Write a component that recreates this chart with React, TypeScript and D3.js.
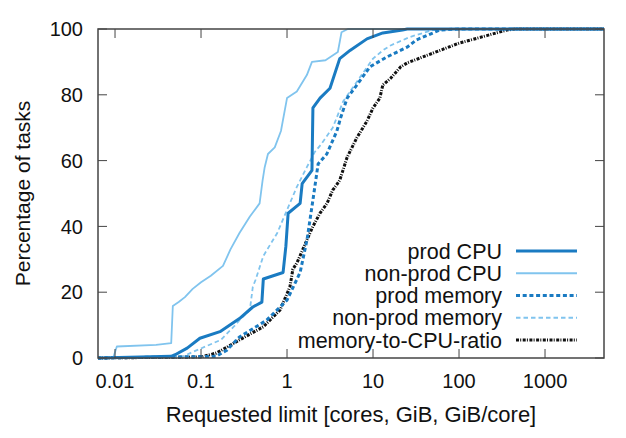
import React, { useEffect, useRef } from 'react';
import * as d3 from 'd3';

type Pt = [number, number];

// CDF points: [requested limit, percentage of tasks]
const prodCpu: Pt[] = [
  [0.0063, 0], [0.045, 0.5], [0.05, 1], [0.069, 3], [0.097, 6], [0.166, 8], [0.28, 12],
  [0.4, 15.5], [0.51, 17], [0.53, 24], [0.9, 26], [0.97, 34], [1.03, 44], [1.42, 47],
  [1.5, 53], [1.95, 57], [2.0, 76], [2.42, 79], [3.16, 82], [4.1, 91], [5.4, 93.5],
  [8.5, 97], [13, 98.8], [22, 99.7], [25, 100], [5000, 100],
];

const nonProdCpu: Pt[] = [
  [0.0063, 0], [0.0095, 0], [0.0105, 3.5], [0.03, 4], [0.045, 4.5], [0.047, 15.8],
  [0.055, 17], [0.065, 18.5], [0.08, 21], [0.1, 23], [0.13, 25], [0.18, 28], [0.22, 33],
  [0.28, 38], [0.37, 43], [0.48, 47], [0.52, 54], [0.55, 58], [0.6, 62], [0.72, 64],
  [0.85, 69], [1.0, 79], [1.3, 81], [1.7, 86], [1.95, 90], [2.8, 90.5], [3.9, 93],
  [4.3, 99], [5.1, 100], [5000, 100],
];

const prodMemory: Pt[] = [
  [0.0063, 0], [0.15, 0.5], [0.2, 2.4], [0.28, 6.4], [0.58, 11.5], [1.0, 17.6],
  [1.42, 26], [1.71, 36], [2.0, 48], [2.3, 59], [2.9, 62], [3.8, 69], [4.2, 73],
  [5.0, 79], [6.5, 83], [9.2, 88.5], [14.5, 91.5], [25, 94.5], [32, 96.7], [60, 99.7],
  [100, 100], [5000, 100],
];

const nonProdMemory: Pt[] = [
  [0.0063, 0], [0.06, 0.3], [0.075, 1.5], [0.17, 5.5], [0.24, 9.5], [0.28, 11.5],
  [0.37, 14.6], [0.4, 21.6], [0.43, 23.7], [0.53, 31], [0.77, 38], [1.0, 45], [1.3, 52],
  [1.7, 58], [2.1, 62.6], [2.5, 65], [3.4, 70], [4.5, 78], [6.5, 84], [10, 91],
  [13, 93.5], [16, 95], [27, 97.6], [50, 99.7], [80, 100], [5000, 100],
];

const memToCpuRatio: Pt[] = [
  [0.0063, 0], [0.1, 0.3], [0.15, 1.5], [0.2, 3.3], [0.28, 5.5], [0.53, 9.5],
  [0.83, 14.6], [1.08, 21.6], [1.17, 27], [1.31, 29], [1.71, 36], [2.0, 40], [2.42, 44],
  [2.92, 47], [3.4, 51], [4.1, 54], [5.0, 61], [6.5, 67], [8.5, 72], [10, 76], [12, 79],
  [13, 83], [16, 85], [21, 88.5], [25, 89.7], [50, 92.7], [100, 95.7], [210, 98],
  [360, 99.7], [450, 100], [5000, 100],
];

const seriesNames = ['prod CPU', 'non-prod CPU', 'prod memory', 'non-prod memory', 'memory-to-CPU-ratio'];
const xTicks = [0.01, 0.1, 1, 10, 100, 1000];
const yTicks = [0, 20, 40, 60, 80, 100];

const FONT = '"Liberation Sans", Arial, Helvetica, sans-serif';

const App = () => {
  const svgRef = useRef<SVGSVGElement>(null);

  useEffect(() => {
    const width = 626;
    const height = 438;
    const left = 98, right = 604, top = 29, bottom = 358;

    const svg = d3.select(svgRef.current);
    svg.selectAll('*').remove();
    svg.attr('width', width).attr('height', height);

    svg.append('rect').attr('width', width).attr('height', height).attr('fill', '#fff');

    const x = d3.scaleLog().domain([0.00634, 4850]).range([left, right]);
    const y = d3.scaleLinear().domain([0, 100]).range([bottom, top]);

    const styles = [
      { data: prodCpu, color: '#1a7bc2', w: 3, dash: null },
      { data: nonProdCpu, color: '#80c4ee', w: 1.8, dash: null },
      { data: prodMemory, color: '#1a7bc2', w: 3, dash: '4,2.7' },
      { data: nonProdMemory, color: '#80c4ee', w: 1.8, dash: '4.5,3' },
      { data: memToCpuRatio, color: '#111', w: 3, dash: '3,1.2,1,1.5' },
    ];

    const clip = svg.append('defs').append('clipPath').attr('id', 'plotclip');
    clip.append('rect').attr('x', left).attr('y', top - 3).attr('width', right - left).attr('height', bottom - top + 6);

    const line = d3.line<Pt>().x(d => x(d[0])).y(d => y(d[1]));

    // draw in reverse so prod CPU ends on top
    const plot = svg.append('g').attr('clip-path', 'url(#plotclip)');
    [...styles].reverse().forEach(s => {
      plot.append('path')
        .datum(s.data)
        .attr('d', line)
        .attr('fill', 'none')
        .attr('stroke', s.color)
        .attr('stroke-width', s.w)
        .attr('stroke-dasharray', s.dash)
        .attr('stroke-linejoin', 'round');
    });

    // frame
    const axisColor = '#444';
    svg.append('rect')
      .attr('x', left).attr('y', top)
      .attr('width', right - left).attr('height', bottom - top)
      .attr('fill', 'none').attr('stroke', axisColor).attr('stroke-width', 1.5);

    const tl = 9;
    xTicks.forEach(t => {
      const px = x(t);
      svg.append('line').attr('x1', px).attr('x2', px).attr('y1', bottom).attr('y2', bottom - tl)
        .attr('stroke', axisColor).attr('stroke-width', 1);
      svg.append('line').attr('x1', px).attr('x2', px).attr('y1', top).attr('y2', top + tl)
        .attr('stroke', axisColor).attr('stroke-width', 1);
      svg.append('text')
        .attr('x', px).attr('y', 388)
        .attr('text-anchor', 'middle')
        .attr('font-family', FONT).attr('font-size', 20).attr('fill', '#111')
        .text(String(t));
    });

    yTicks.forEach(t => {
      const py = y(t);
      svg.append('line').attr('x1', left).attr('x2', left + tl).attr('y1', py).attr('y2', py)
        .attr('stroke', axisColor).attr('stroke-width', 1);
      svg.append('line').attr('x1', right).attr('x2', right - tl).attr('y1', py).attr('y2', py)
        .attr('stroke', axisColor).attr('stroke-width', 1);
      svg.append('text')
        .attr('x', 83).attr('y', py).attr('dy', '0.36em')
        .attr('text-anchor', 'end')
        .attr('font-family', FONT).attr('font-size', 20).attr('fill', '#111')
        .text(String(t));
    });

    // axis titles
    svg.append('text')
      .attr('x', 351).attr('y', 422)
      .attr('text-anchor', 'middle')
      .attr('font-family', FONT).attr('font-size', 22).attr('fill', '#111')
      .text('Requested limit [cores, GiB, GiB/core]');

    svg.append('text')
      .attr('transform', `translate(30, ${(top + bottom) / 2}) rotate(-90)`)
      .attr('text-anchor', 'middle')
      .attr('font-family', FONT).attr('font-size', 21).attr('fill', '#111')
      .text('Percentage of tasks');

    // legend
    const legY = d3.scalePoint<string>().domain(seriesNames).range([251, 340]);
    seriesNames.forEach((name, i) => {
      const ly = legY(name)!;
      const s = styles[i];
      svg.append('text')
        .attr('x', 502).attr('y', ly).attr('dy', '0.36em')
        .attr('text-anchor', 'end')
        .attr('font-family', FONT).attr('font-size', 21.5).attr('fill', '#111')
        .text(name);
      svg.append('line')
        .attr('x1', 516).attr('x2', 577).attr('y1', ly).attr('y2', ly)
        .attr('stroke', s.color).attr('stroke-width', s.w)
        .attr('stroke-dasharray', s.dash);
    });
  }, []);

  return <svg ref={svgRef} style={{ display: 'block', position: 'absolute', left: 0, top: 0 }} />;
};

export default App;
